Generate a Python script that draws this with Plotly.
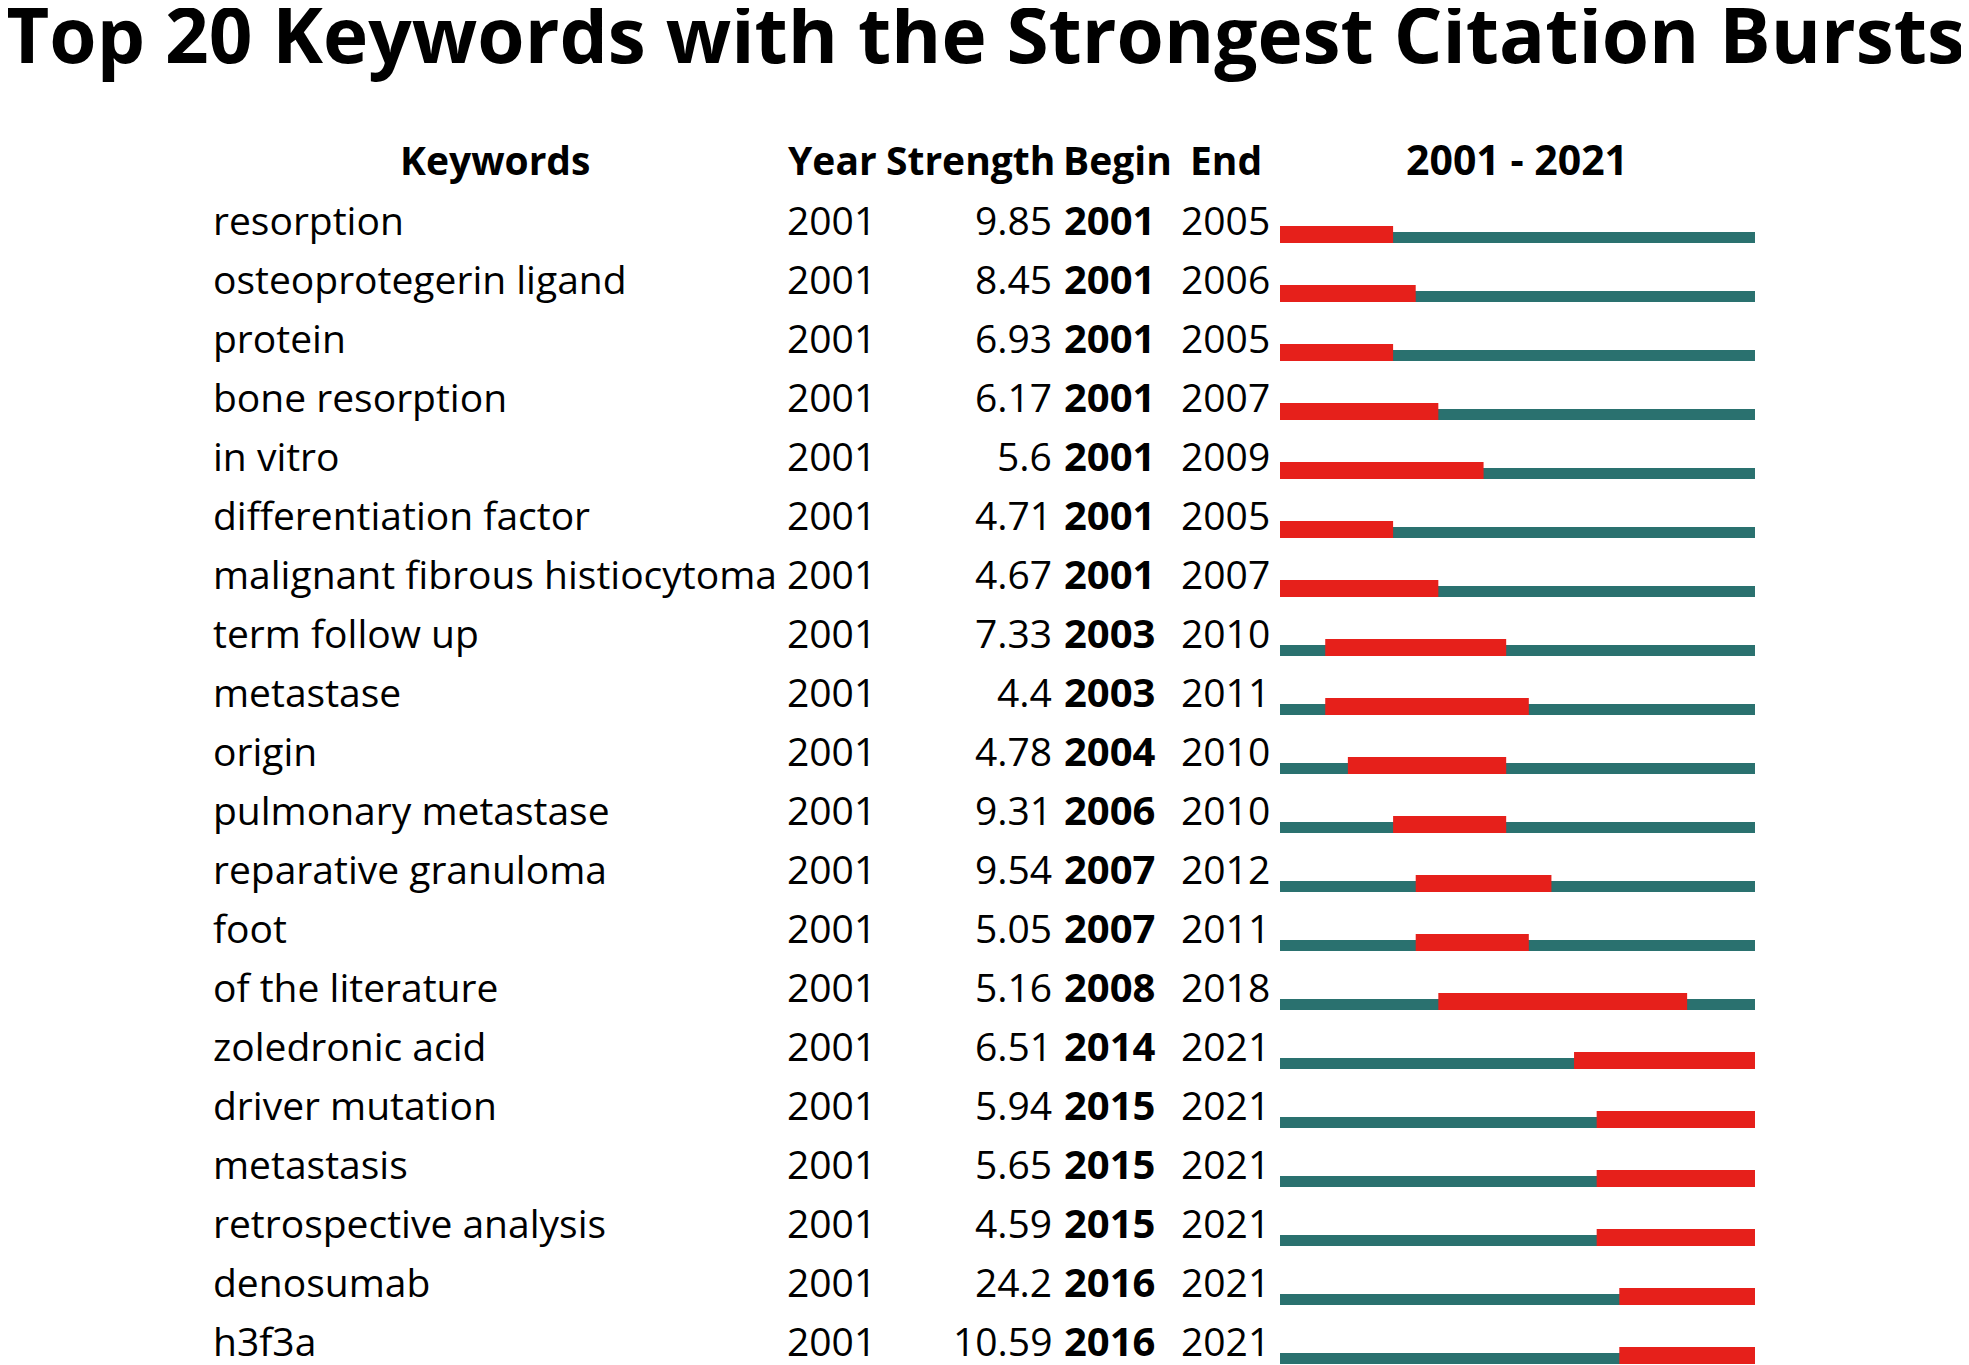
import plotly.graph_objects as go

title_text = "Top 20 Keywords with the Strongest Citation Bursts"
headers = ["Keywords", "Year", "Strength", "Begin", "End", "2001 - 2021"]

keywords = [
    "resorption", "osteoprotegerin ligand", "protein", "bone resorption",
    "in vitro", "differentiation factor", "malignant fibrous histiocytoma",
    "term follow up", "metastase", "origin", "pulmonary metastase",
    "reparative granuloma", "foot", "of the literature", "zoledronic acid",
    "driver mutation", "metastasis", "retrospective analysis", "denosumab",
    "h3f3a",
]
years = [2001] * 20
strengths = [9.85, 8.45, 6.93, 6.17, 5.6, 4.71, 4.67, 7.33, 4.4, 4.78,
             9.31, 9.54, 5.05, 5.16, 6.51, 5.94, 5.65, 4.59, 24.2, 10.59]
begins = [2001, 2001, 2001, 2001, 2001, 2001, 2001, 2003, 2003, 2004,
          2006, 2007, 2007, 2008, 2014, 2015, 2015, 2015, 2016, 2016]
ends = [2005, 2006, 2005, 2007, 2009, 2005, 2007, 2010, 2011, 2010,
        2010, 2012, 2011, 2018, 2021, 2021, 2021, 2021, 2021, 2021]
period_start = 2001
period_end = 2021

OFF = 8  # page body margin
W, H = 1969 - OFF, 1365 - OFF
FONT = "Open Sans"
FS = 39
RED = "#e6201b"
GREEN = "#2a716f"

rows = list(range(len(keywords)))
ROW_PX = 59.0
ROW0_PX = 221.0 - OFF

px_per_year = 475.0 / 21.0
x0 = (period_start - 0.5) - (1280.0 - OFF) / px_per_year
x1 = x0 + W / px_per_year
y_top = (0 - ROW0_PX) / ROW_PX
y_bot = (H - ROW0_PX) / ROW_PX

green_off = 16.5 / ROW_PX
red_off = 13.5 / ROW_PX
text_off = -2.0 / ROW_PX

fig = go.Figure()
fig.add_trace(go.Bar(
    orientation="h",
    y=[r + green_off for r in rows],
    x=[period_end - period_start + 1] * len(rows),
    base=[period_start - 0.5] * len(rows),
    width=11.0 / ROW_PX,
    marker=dict(color=GREEN, line=dict(width=0)),
    hoverinfo="skip",
))
fig.add_trace(go.Bar(
    orientation="h",
    y=[r + red_off for r in rows],
    x=[e - b + 1 for b, e in zip(begins, ends)],
    base=[b - 0.5 for b in begins],
    width=17.0 / ROW_PX,
    marker=dict(color=RED, line=dict(width=0)),
    hoverinfo="skip",
))

ann = []
def add(text, xpx, y, anchor, bold=False, size=FS):
    ann.append(dict(
        text=f"<b>{text}</b>" if bold else text,
        x=(xpx - OFF) / W, xref="paper", y=y, yref="y",
        xanchor=anchor, yanchor="middle", showarrow=False,
        font=dict(family=FONT, size=size, color="black"),
    ))

hy = (161 - OFF - ROW0_PX) / ROW_PX + text_off
add(headers[0], 495, hy, "center", True)
add(headers[1], 786, hy, "left", True)
add(headers[2], 884, hy, "left", True)
add(headers[3], 1061, hy, "left", True)
add(headers[4], 1188, hy, "left", True)
add(headers[5], 1517, hy, "center", True, 41)

for r, k, yr, s, b, e in zip(rows, keywords, years, strengths, begins, ends):
    ty = r + text_off
    add(k, 211, ty, "left")
    add(str(yr), 785, ty, "left")
    add(str(s), 1054, ty, "right")
    add(str(b), 1062, ty, "left", True, 40)
    add(str(e), 1179, ty, "left")

ann.append(dict(
    text=f"<b>{title_text}</b>", x=(985 - OFF) / W, xref="paper",
    y=1 - (33 - OFF) / H, yref="paper",
    xanchor="center", yanchor="middle", showarrow=False,
    font=dict(family=FONT, size=76.5, color="black"),
))

fig.update_layout(
    width=W, height=H,
    margin=dict(l=0, r=0, t=0, b=0),
    paper_bgcolor="white", plot_bgcolor="white",
    barmode="overlay", showlegend=False,
    xaxis=dict(range=[x0, x1], visible=False, domain=[0, 1], fixedrange=True),
    yaxis=dict(range=[y_bot, y_top], visible=False, domain=[0, 1], fixedrange=True),
    annotations=ann,
)

fig.write_html("out.html")
